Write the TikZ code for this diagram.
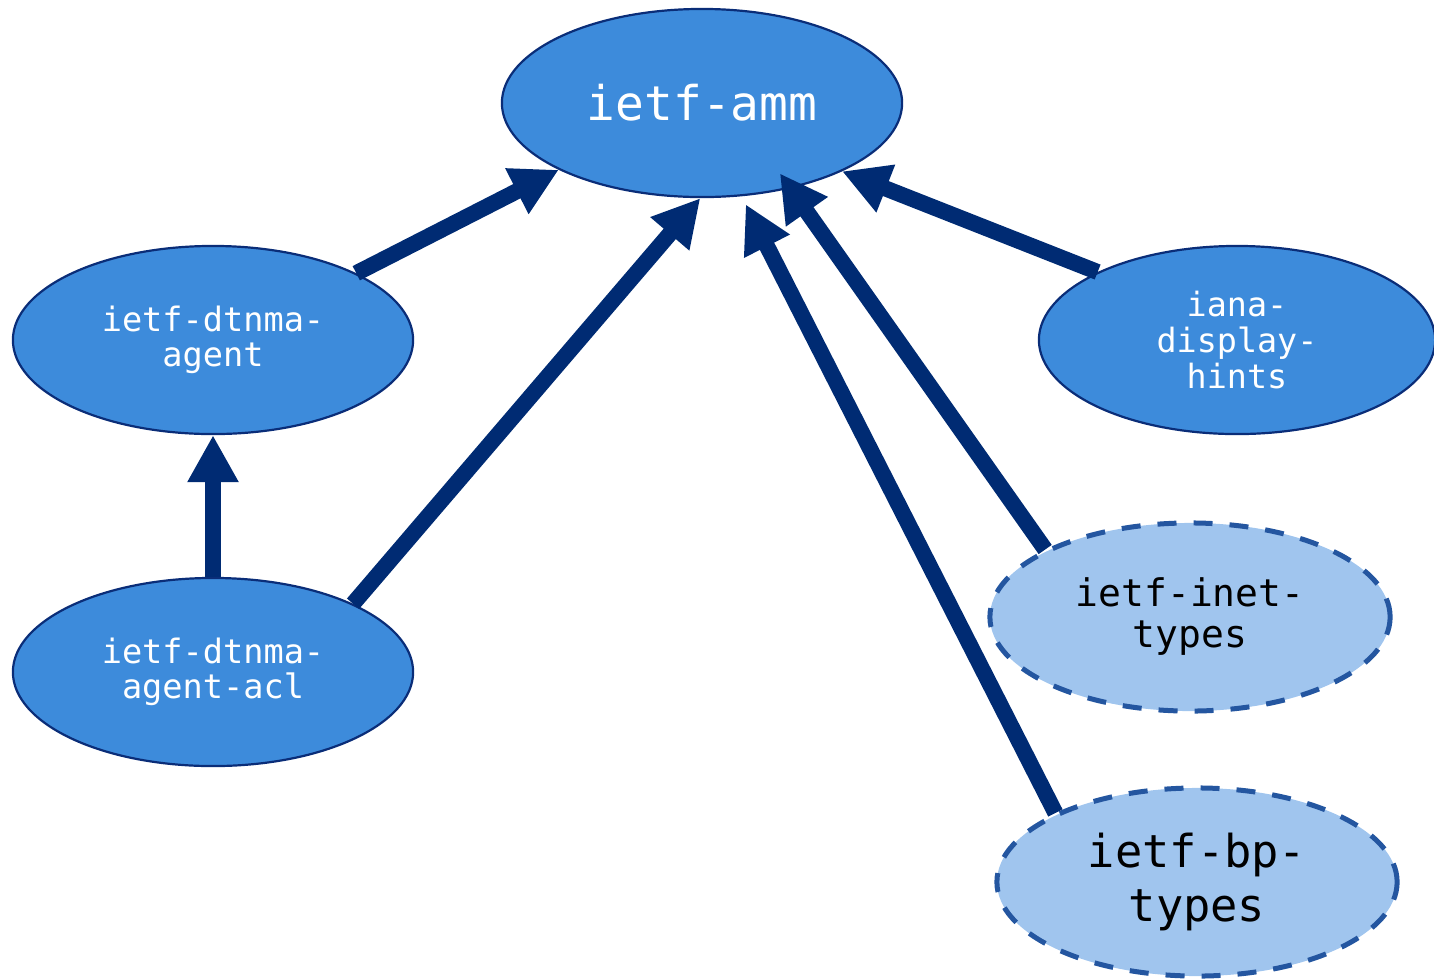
\documentclass[tikz,border=0pt]{standalone}
\usepackage{fontspec}
\setmonofont{DejaVu Sans Mono}
\usetikzlibrary{shapes.geometric,arrows.meta}
\definecolor{fillA}{RGB}{61,139,219}
\definecolor{borderA}{RGB}{10,45,120}
\definecolor{fillB}{RGB}{160,197,238}
\definecolor{borderB}{RGB}{36,86,160}
\definecolor{arrowC}{RGB}{0,43,115}
\tikzset{
  modsolid/.style={ellipse, draw=borderA, line width=0.022cm, fill=fillA, text=white,
    minimum width=4cm, minimum height=1.88cm, inner sep=0pt, align=center, font=\ttfamily},
  moddash/.style={ellipse, draw=borderB, line width=0.05cm, fill=fillB, text=black,
    dash pattern=on 0.19cm off 0.17cm,
    minimum width=4cm, minimum height=1.88cm, inner sep=0pt, align=center, font=\ttfamily},
  dep/.style={draw=arrowC, line width=0.16cm, -{Triangle[length=0.47cm,width=0.48cm]}}
}
\begin{document}
\begin{tikzpicture}[x=0.01cm,y=-0.01cm]
\useasboundingbox (0,0) rectangle (1434,978);
\node[modsolid, font=\ttfamily\fontsize{13.6}{16}\selectfont] (amm) at (702,103) {ietf-amm};
\node[modsolid, font=\ttfamily\fontsize{9.55}{10}\selectfont] (agent) at (213,340) {ietf-dtnma-\\agent};
\node[modsolid, font=\ttfamily\fontsize{9.55}{10}\selectfont] (acl) at (213,672) {ietf-dtnma-\\agent-acl};
\node[modsolid, minimum width=3.96cm, font=\ttfamily\fontsize{9.5}{10.24}\selectfont] (iana) at (1237,340) {iana-\\display-\\hints};
\node[moddash, font=\ttfamily\fontsize{10.8}{11.66}\selectfont] (inet) at (1190,617) {ietf-inet-\\types};
\node[moddash, font=\ttfamily\fontsize{12.9}{15.6}\selectfont] (bp) at (1197,882) {ietf-bp-\\types};
\draw[dep] (agent.25.6) -- (amm.205.3);
\draw[dep] (acl.26.1) -- (amm.269);
\draw[dep, shorten >=0.09cm] (bp.154.4) -- (amm.293);
\draw[dep, shorten >=-0.185cm] (inet.155.1) -- (amm.316.8);
\draw[dep] (iana.154.1) -- (amm.334.9);
\draw[dep] (acl.90) -- (agent.270);
\end{tikzpicture}
\end{document}
